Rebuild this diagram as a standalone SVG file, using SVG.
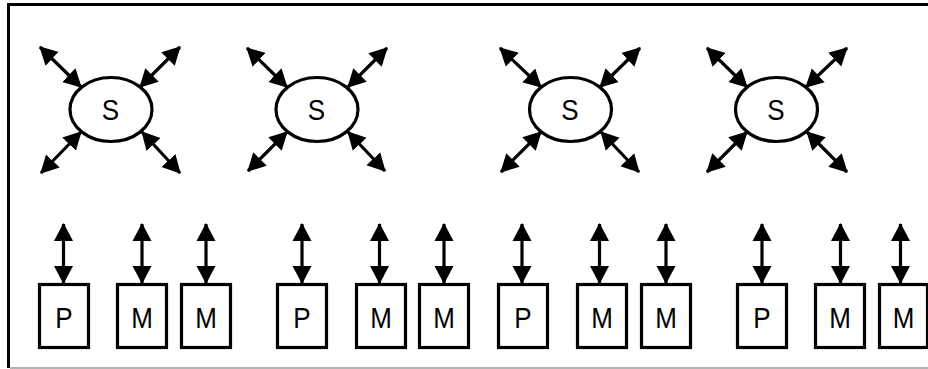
<svg xmlns="http://www.w3.org/2000/svg" width="928" height="369" viewBox="0 0 928 369">
<style>
.frame{fill:none;stroke:#000;stroke-width:3}
.base{fill:none;stroke:#999;stroke-width:1.5}
.node{fill:#fff;stroke:#000;stroke-width:3.2}
.lbl{font-family:"Liberation Sans",Arial,sans-serif;font-size:26px;fill:#000;text-anchor:middle}
.conn line{stroke:#000;stroke-width:3.2;marker-start:url(#ah);marker-end:url(#ah)}
</style>
<defs>
<marker id="ah" markerUnits="userSpaceOnUse" markerWidth="20" markerHeight="20" refX="17" refY="10" orient="auto-start-reverse" viewBox="0 0 20 20">
<path d="M0,0.5 L18,10 L0,19.5 z" fill="#000"/>
</marker>
</defs>
<rect width="928" height="369" fill="#fff"/>
<path class="frame" d="M8.5,368 V4.5 H928"/>
<line class="base" x1="10" y1="368" x2="928" y2="368"/>

<g id="s1"><ellipse class="node" cx="111" cy="109.5" rx="41" ry="32"/><text class="lbl" transform="translate(110.5,119.5) scale(1,1.17)">S</text></g>
<g id="s2"><ellipse class="node" cx="317" cy="109.5" rx="41" ry="32"/><text class="lbl" transform="translate(316.5,119.5) scale(1,1.17)">S</text></g>
<g id="s3"><ellipse class="node" cx="570.5" cy="109.5" rx="41" ry="32"/><text class="lbl" transform="translate(570,119.5) scale(1,1.17)">S</text></g>
<g id="s4"><ellipse class="node" cx="776.5" cy="109.5" rx="41" ry="32"/><text class="lbl" transform="translate(776,119.5) scale(1,1.17)">S</text></g>

<g id="p1"><rect class="node" x="39.5" y="284.5" width="49" height="63"/><text class="lbl" transform="translate(64,328) scale(1,1.17)">P</text></g>
<g id="m1a"><rect class="node" x="117.5" y="284.5" width="49" height="63"/><text class="lbl" transform="translate(142,328) scale(1,1.17)">M</text></g>
<g id="m1b"><rect class="node" x="181.5" y="284.5" width="49" height="63"/><text class="lbl" transform="translate(206,328) scale(1,1.17)">M</text></g>

<g id="p2"><rect class="node" x="277.5" y="284.5" width="49" height="63"/><text class="lbl" transform="translate(302,328) scale(1,1.17)">P</text></g>
<g id="m2a"><rect class="node" x="356.5" y="284.5" width="49" height="63"/><text class="lbl" transform="translate(381,328) scale(1,1.17)">M</text></g>
<g id="m2b"><rect class="node" x="419.5" y="284.5" width="49" height="63"/><text class="lbl" transform="translate(444,328) scale(1,1.17)">M</text></g>

<g id="p3"><rect class="node" x="498.5" y="284.5" width="49" height="63"/><text class="lbl" transform="translate(523,328) scale(1,1.17)">P</text></g>
<g id="m3a"><rect class="node" x="577.5" y="284.5" width="49" height="63"/><text class="lbl" transform="translate(602,328) scale(1,1.17)">M</text></g>
<g id="m3b"><rect class="node" x="641.5" y="284.5" width="49" height="63"/><text class="lbl" transform="translate(666,328) scale(1,1.17)">M</text></g>

<g id="p4"><rect class="node" x="737.5" y="284.5" width="49" height="63"/><text class="lbl" transform="translate(762,328) scale(1,1.17)">P</text></g>
<g id="m4a"><rect class="node" x="815.5" y="284.5" width="49" height="63"/><text class="lbl" transform="translate(840,328) scale(1,1.17)">M</text></g>
<g id="m4b"><rect class="node" x="879.5" y="284.5" width="48" height="63"/><text class="lbl" transform="translate(903.5,328) scale(1,1.17)">M</text></g>

<g id="connectors" class="conn">
<line x1="40" y1="47" x2="81" y2="87"/>
<line x1="180" y1="47" x2="140" y2="87"/>
<line x1="41" y1="173" x2="81" y2="132"/>
<line x1="180" y1="173" x2="142" y2="132"/>

<line x1="247" y1="48" x2="287" y2="87"/>
<line x1="387" y1="48" x2="348" y2="87"/>
<line x1="248" y1="171" x2="287" y2="132"/>
<line x1="385" y1="171" x2="348" y2="132"/>

<line x1="500" y1="48" x2="541" y2="87"/>
<line x1="640" y1="48" x2="600" y2="87"/>
<line x1="501" y1="172" x2="541" y2="132"/>
<line x1="639" y1="172" x2="601" y2="132"/>

<line x1="707" y1="48" x2="747" y2="87"/>
<line x1="847" y1="48" x2="806" y2="87"/>
<line x1="707" y1="172" x2="747" y2="132"/>
<line x1="847" y1="172" x2="807" y2="132"/>

<line x1="63.5" y1="224" x2="63.5" y2="283"/>
<line x1="142" y1="224" x2="142" y2="283"/>
<line x1="206" y1="224" x2="206" y2="283"/>
<line x1="302" y1="224" x2="302" y2="283"/>
<line x1="379.5" y1="224" x2="379.5" y2="283"/>
<line x1="444" y1="224" x2="444" y2="283"/>
<line x1="522" y1="224" x2="522" y2="283"/>
<line x1="599.5" y1="224" x2="599.5" y2="283"/>
<line x1="666" y1="224" x2="666" y2="283"/>
<line x1="762" y1="224" x2="762" y2="283"/>
<line x1="840.5" y1="224" x2="840.5" y2="283"/>
<line x1="900.5" y1="224" x2="900.5" y2="283"/>
</g>
</svg>
